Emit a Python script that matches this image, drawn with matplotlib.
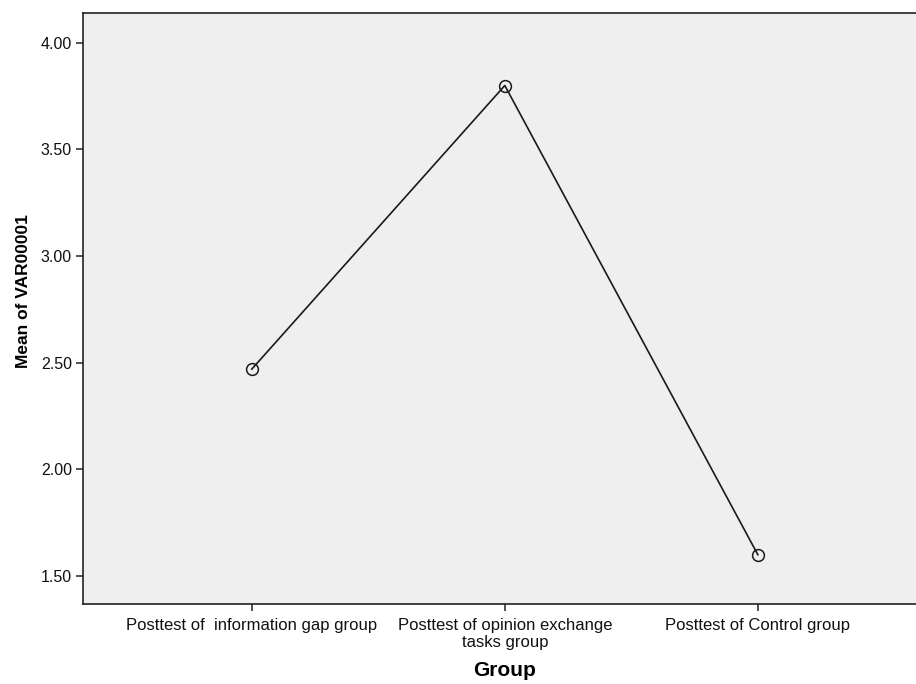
import matplotlib

matplotlib.use("Agg")
import matplotlib.pyplot as plt

# data
groups = [
    "Posttest of  information gap group",
    "Posttest of opinion exchange\ntasks group",
    "Posttest of Control group",
]
means = [2.47, 3.80, 1.60]
yticks = [1.50, 2.00, 2.50, 3.00, 3.50, 4.00]

plt.rcParams["font.family"] = ["Liberation Sans", "DejaVu Sans"]

fig = plt.figure(figsize=(9.16, 6.84), dpi=100)
ax = fig.add_axes([0.0906, 0.117, 0.921, 0.864])
ax.set_facecolor("#efefef")

x = list(range(len(groups)))
ax.plot(x, means, color="#1a1a1a", linewidth=1.2, marker="o", markersize=8.5,
        markerfacecolor="none", markeredgecolor="#1a1a1a", markeredgewidth=1.1)

ax.set_xlim(-0.667, 2.667)
ax.set_ylim(1.369, 4.14)
ax.set_xticks(x)
ax.set_xticklabels(groups, fontsize=12, linespacing=1.2)
ax.set_yticks(yticks)
ax.set_yticklabels([f"{v:.2f}" for v in yticks], fontsize=11.5)
ax.tick_params(axis="y", direction="out", length=5, width=1.2, color="#333333",
               labelcolor="#111111", pad=3)
ax.tick_params(axis="x", direction="out", length=5, width=1.2, color="#333333",
               labelcolor="#111111", pad=5)

for side in ("left", "bottom", "top"):
    ax.spines[side].set_linewidth(1.2)
    ax.spines[side].set_color("#222222")
ax.spines["right"].set_visible(False)

ax.set_ylabel("Mean of VAR00001", fontsize=12.5, fontweight="bold")
ax.yaxis.set_label_coords(-0.0616, 0.53)
ax.set_xlabel("Group", fontsize=15, fontweight="bold", labelpad=8)

fig.savefig("out.png", dpi=100)
